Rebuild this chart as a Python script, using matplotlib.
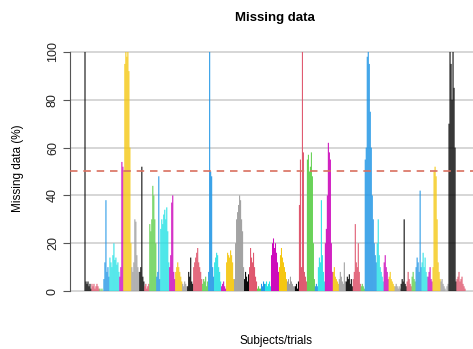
import numpy as np
import matplotlib
matplotlib.use("Agg")
import matplotlib.pyplot as plt

plt.rcParams['font.family'] = ['Liberation Sans', 'DejaVu Sans']

# R 4 default palette, cycled over subjects
palette = ["#000000", "#DF536B", "#61D04F", "#2297E6",
           "#28E2E5", "#CD0BBC", "#F5C710", "#9E9E9E"]

# missing data (%) per trial, one list per subject
missing_pct = [
    [100, 4, 3, 4, 2, 3, 1],
    [3, 2, 3, 1, 2, 3, 2, 1],
    [1, 0, 1, 0],
    [5, 12, 38, 8, 10, 6],
    [14, 12, 10, 15, 20, 13, 14, 11, 12, 8],
    [6, 10, 54, 52],
    [50, 95, 100, 98, 100, 92, 60, 20],
    [10, 8, 12, 30, 29, 15, 10, 8],
    [8, 10, 52, 6, 4],
    [2, 3, 1, 2, 3],
    [28, 25, 30, 44, 40, 30, 20],
    [6, 8, 48, 5],
    [26, 30, 28, 32, 34, 30, 35, 25, 12],
    [10, 15, 37, 40, 8, 5],
    [8, 10, 12, 10, 8, 6, 4],
    [3, 2, 4, 3, 2],
    [2, 8, 6, 14, 4, 3],
    [10, 12, 14, 16, 18, 12, 10, 8, 5],
    [3, 5, 4, 6, 2, 4],
    [8, 100, 50, 48, 10, 6],
    [12, 14, 16, 15, 10, 8, 4],
    [2, 3, 4, 2, 1],
    [12, 16, 15, 14, 17, 15, 12, 5],
    [5, 20, 30, 33, 36, 40, 38, 30, 25, 10],
    [5, 8, 6, 4, 7],
    [10, 18, 14, 12, 16, 10, 6, 4],
    [1, 2, 1, 1],
    [3, 2, 4, 3],
    [3, 4, 2, 3, 4, 2],
    [15, 20, 22, 18, 20, 16, 12, 8],
    [10, 15, 18, 14, 12, 10, 8, 5],
    [4, 5, 3, 6, 4, 3, 2, 2],
    [2, 3, 1, 4],
    [36, 55, 10, 100, 58, 8, 6, 4],
    [55, 57, 50, 52, 58, 48, 20, 5],
    [2, 3, 2],
    [10, 14, 12, 38, 15, 8, 4],
    [20, 26, 40, 62, 58, 55, 20, 8],
    [8, 10, 6, 5, 4, 3],
    [5, 8, 6, 4, 3, 12, 4],
    [4, 6, 5, 7, 3, 5, 2],
    [5, 8, 28, 12, 10, 20, 8, 3],
    [2, 3, 2, 1],
    [55, 60, 98, 100, 95, 75, 60, 40, 30, 20, 15, 12],
    [20, 30, 15, 10, 8, 6, 4],
    [12, 15, 10, 8, 5],
    [6, 8, 5, 4, 3, 2],
    [2, 3, 2, 1, 2, 1],
    [3, 5, 4, 30, 3, 2],
    [4, 8, 5, 3, 2],
    [6, 8, 5, 4],
    [10, 14, 12, 8, 42, 10],
    [12, 16, 10, 14, 8, 6],
    [6, 8, 10, 5, 4],
    [10, 50, 52, 48, 30, 12, 8, 5],
    [4, 5, 3, 2, 1, 0, 2, 3],
    [70, 100, 95, 80, 100, 85, 60, 4],
    [5, 6, 8, 4, 5, 6, 3, 2, 1],
]

heights = np.concatenate([np.array(s, dtype=float) for s in missing_pct])
colors = []
for i, s in enumerate(missing_pct):
    colors += [palette[i % len(palette)]] * len(s)
x = np.arange(len(heights))

W, H = 473, 349
fig = plt.figure(figsize=(W / 100, H / 100), dpi=100)
ax = fig.add_axes([70 / W, 0.1387, 1 - 70 / W, 0.7398])

# bars span pixels 85..465 of a 403 px wide axes
px_per_bar = 380 / (len(heights) - 1)
xmin = -15 / px_per_bar
ax.set_xlim(xmin, xmin + 403 / px_per_bar)
ax.set_ylim(-4, 104)

ax.set_yticks([0, 20, 40, 60, 80, 100])
ax.grid(axis="y", color="#CCCCCC", lw=1.1)
ax.set_axisbelow(True)

bars = ax.bar(x, heights, width=1.05, color=colors, linewidth=0, zorder=2)
for b in bars:
    b.set_snap(False)
ax.axhline(50, color="#D9705F", lw=1.2, ls=(0, (4.5, 3.5)), zorder=3)

for sp in ["top", "right", "bottom"]:
    ax.spines[sp].set_visible(False)
ax.spines["left"].set_bounds(0, 100)
ax.spines["left"].set_color("#555555")
ax.set_xticks([])
ax.tick_params(axis="y", length=5, color="#555555", labelsize=9,
               labelcolor="#222222", pad=3)
for lab in ax.get_yticklabels():
    lab.set_rotation(90)
    lab.set_va("center")

fig.text(275 / W, 1 - 18 / H, "Missing data", ha="center", va="center",
         fontsize=9.5, fontweight="bold")
fig.text(18 / W, 1 - 168 / H, "Missing data (%)", ha="center", va="center",
         rotation=90, fontsize=8.5)
fig.text(276 / W, 1 - 341 / H, "Subjects/trials", ha="center", va="center",
         fontsize=8.5)

fig.savefig("out.png", dpi=100)
